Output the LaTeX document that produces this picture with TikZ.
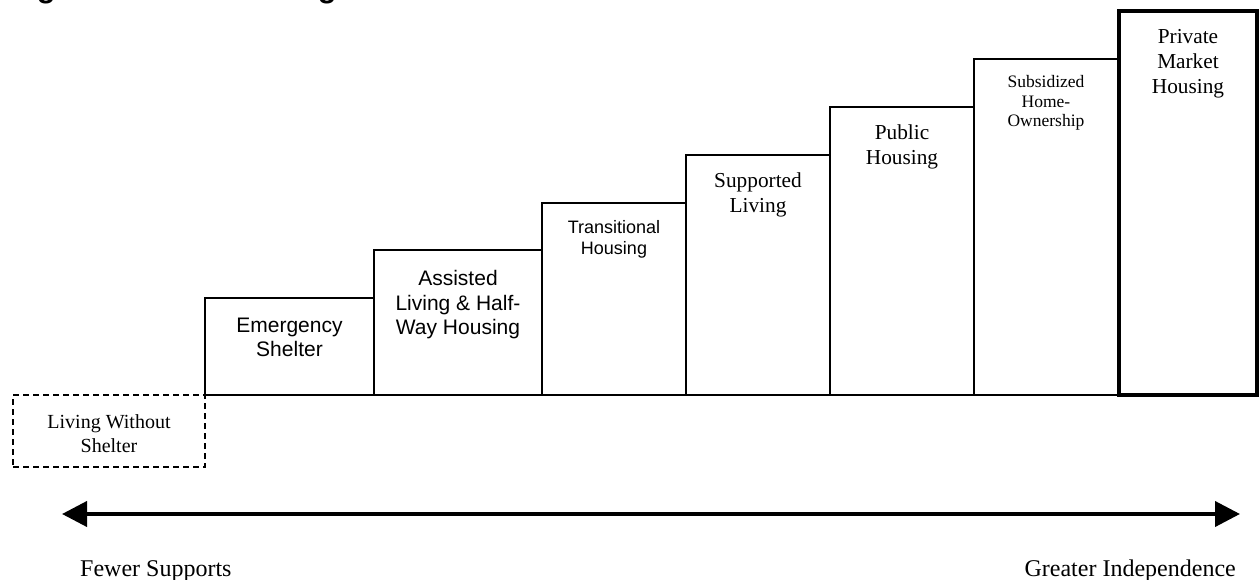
\documentclass[tikz,border=0pt]{standalone}
\usepackage{fontspec}
\setmainfont{Liberation Serif}
\newfontfamily\arialf{Liberation Sans}
\usetikzlibrary{arrows.meta}
\begin{document}
\begin{tikzpicture}[x=1pt,y=-1pt,
  stepbox/.style={draw, line width=1.8pt, inner sep=0pt, outer sep=0pt, anchor=north west},
  lab/.style={align=center, anchor=north, inner sep=0pt},
  sanslab/.style={lab, font=\arialf\fontsize{21}{24.3}\selectfont},
  seriflab/.style={lab, font=\fontsize{21.3}{25}\selectfont},
  endlab/.style={inner sep=0pt, font=\fontsize{24}{28}\selectfont}]
\useasboundingbox (0,0) rectangle (1259,580);
% clipped title (only descenders visible)
\begin{scope}
\clip (0,0) rectangle (1259,580);
\node[anchor=base west, inner sep=0pt, font=\arialf\bfseries\fontsize{30.7}{34}\selectfont] (title) at (9.5,-2.5) {Figure 1: The Housing Continuum};
\end{scope}
% boxes
\node[stepbox, dashed, dash pattern=on 6pt off 4pt, minimum width=192pt, minimum height=72pt] (lws) at (13,395) {};
\node[stepbox, minimum width=169pt, minimum height=97pt] (es) at (205,298) {};
\node[stepbox, minimum width=168pt, minimum height=145pt] (al) at (374,250) {};
\node[stepbox, minimum width=144pt, minimum height=192pt] (th) at (542,203) {};
\node[stepbox, minimum width=144pt, minimum height=240pt] (sl) at (686,155) {};
\node[stepbox, minimum width=144pt, minimum height=288pt] (ph) at (830,107) {};
\node[stepbox, minimum width=144pt, minimum height=336pt] (sh) at (974,59) {};
\node[stepbox, line width=3.5pt, minimum width=138pt, minimum height=384pt] (pm) at (1119,11) {};
% labels
\node[seriflab, font=\fontsize{20}{24}\selectfont] (lwst) at ([yshift=-19pt]lws.north) {Living Without\\Shelter};
\node[sanslab] (est) at ([yshift=-20pt]es.north) {Emergency\\Shelter};
\node[sanslab] (alt) at ([yshift=-20.5pt]al.north) {Assisted\\Living \& Half-\\Way Housing};
\node[sanslab, font=\arialf\fontsize{18}{21.3}\selectfont] (tht) at ([yshift=-17pt]th.north) {Transitional\\Housing};
\node[seriflab] (slt) at ([yshift=-18pt]sl.north) {Supported\\Living};
\node[seriflab] (pht) at ([yshift=-18pt]ph.north) {Public\\Housing};
\node[seriflab, font=\fontsize{17.5}{19.5}\selectfont] (sht) at ([yshift=-16.5pt]sh.north) {Subsidized\\Home-\\Ownership};
\node[seriflab] (pmt) at ([yshift=-18.5pt]pm.north) {Private\\Market\\Housing};
% arrow
\coordinate (la) at (62,514);
\coordinate (ra) at (1240,514);
\draw[line width=4pt, {Triangle[length=25pt,width=25pt]}-{Triangle[length=25pt,width=25pt]}] (la) -- (ra);
\node[endlab, anchor=base west] (fs) at (80,576) {Fewer Supports};
\node[endlab, anchor=base east] (gi) at (1236,576) {Greater Independence};
\end{tikzpicture}
\end{document}
